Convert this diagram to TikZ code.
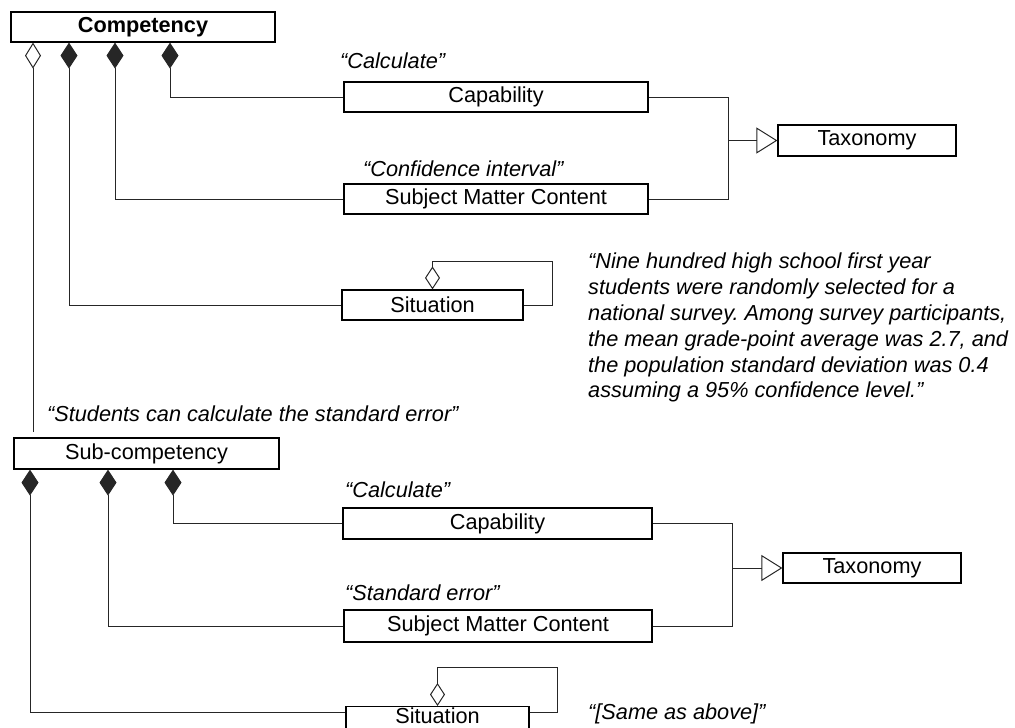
\documentclass[tikz,border=0pt]{standalone}
\usepackage{fontspec}
\setmainfont{Liberation Sans}
\usetikzlibrary{arrows.meta}
\newcommand\umlfont{\fontsize{21.7pt}{25.8pt}\selectfont}
\frenchspacing
\begin{document}
\begin{tikzpicture}[x=1pt,y=-1pt,
  cls/.style={draw=black, line width=1.2pt, fill=white, inner sep=0pt,
              minimum height=30pt, font=\umlfont},
  link/.style={draw=black!85, line width=1pt},
  compo/.style={link, {Diamond[length=26pt,width=17pt]}-},
  aggr/.style={link, {Diamond[open,length=26pt,width=16pt]}-},
  selfaggr/.style={link, {Diamond[open,length=23pt,width=15pt]}-},
  gen/.style={link, -{Triangle[open,length=21pt,width=26pt]}},
  note/.style={font=\umlfont\itshape, inner sep=0pt, anchor=base west}]
\useasboundingbox (0,0) rectangle (1015,728);

% classes
\node[cls, minimum width=264pt, font=\umlfont\bfseries] (comp) at (143,27) {Competency};
\node[cls, minimum width=304pt] (cap1) at (496,97) {Capability};
\node[cls, minimum width=304pt] (smc1) at (496,199) {Subject Matter Content};
\node[cls, minimum width=181pt] (sit1) at (432.5,305) {Situation};
\node[cls, minimum width=178pt, minimum height=31pt] (tax1) at (867,140.5) {Taxonomy};

\node[cls, minimum width=265pt, minimum height=31pt] (sub) at (146.5,453.5) {Sub-competency};
\node[cls, minimum width=309pt, minimum height=31pt] (cap2) at (497.5,523.5) {Capability};
\node[cls, minimum width=308pt, minimum height=32pt] (smc2) at (498,626) {Subject Matter Content};
\node[cls, minimum width=178pt] (tax2) at (872,568) {Taxonomy};
\node[cls, minimum width=183pt, text height=17pt, text depth=13pt, anchor=north] (sit2) at (437.5,706) {Situation};

% columns of the association ends
\coordinate (a1) at (33,0);
\coordinate (a2) at (69,0);
\coordinate (a3) at (115,0);
\coordinate (a4) at (170,0);
\coordinate (b1) at (30,0);
\coordinate (b2) at (108,0);
\coordinate (b3) at (173,0);
\coordinate (j1) at (728,0);
\coordinate (j2) at (732,0);
\coordinate (loop1) at (552,261);
\coordinate (loop2) at (557,667);

% competency associations
\draw[aggr, shorten >=5pt] (comp.south -| a1) -- (sub.north -| a1);
\draw[compo] (comp.south -| a4) |- (cap1.west);
\draw[compo] (comp.south -| a3) |- (smc1.west);
\draw[compo] (comp.south -| a2) |- (sit1.west);
\draw[link] (cap1.east) -| (j1 |- smc1.east) -- (smc1.east);
\draw[gen] (j1 |- tax1) -- (tax1.west);
\draw[selfaggr] (sit1.north) |- (loop1) |- (sit1.east);

% sub-competency associations
\draw[compo] (sub.south -| b3) |- (cap2.west);
\draw[compo] (sub.south -| b2) |- (smc2.west);
\draw[compo] (sub.south -| b1) |- ([yshift=9pt]sit2.west);
\draw[link] (cap2.east) -| (j2 |- smc2.east) -- (smc2.east);
\draw[gen] (j2 |- tax2) -- (tax2.west);
\draw[selfaggr] (sit2.north) |- (loop2) |- ([yshift=9pt]sit2.east);

% example instances
\node[note] (q1) at (340,68) {“Calculate”};
\node[note] (q2) at (363,176) {“Confidence interval”};
\node[note] (q3) at (47,421) {“Students can calculate the standard error”};
\node[note] (q4) at (345,497) {“Calculate”};
\node[note] (q5) at (345,600) {“Standard error”};
\node[note] (q6) at (588,719) {“[Same as above]”};
\node[note, anchor=north west, align=left] (q7) at (588,253)
  {“Nine hundred high school first year\\
    students were randomly selected for a\\
    national survey. Among survey participants,\\
    the mean grade-point average was 2.7, and\\
    the population standard deviation was 0.4\\
    assuming a 95\% confidence level.”};
\end{tikzpicture}
\end{document}
